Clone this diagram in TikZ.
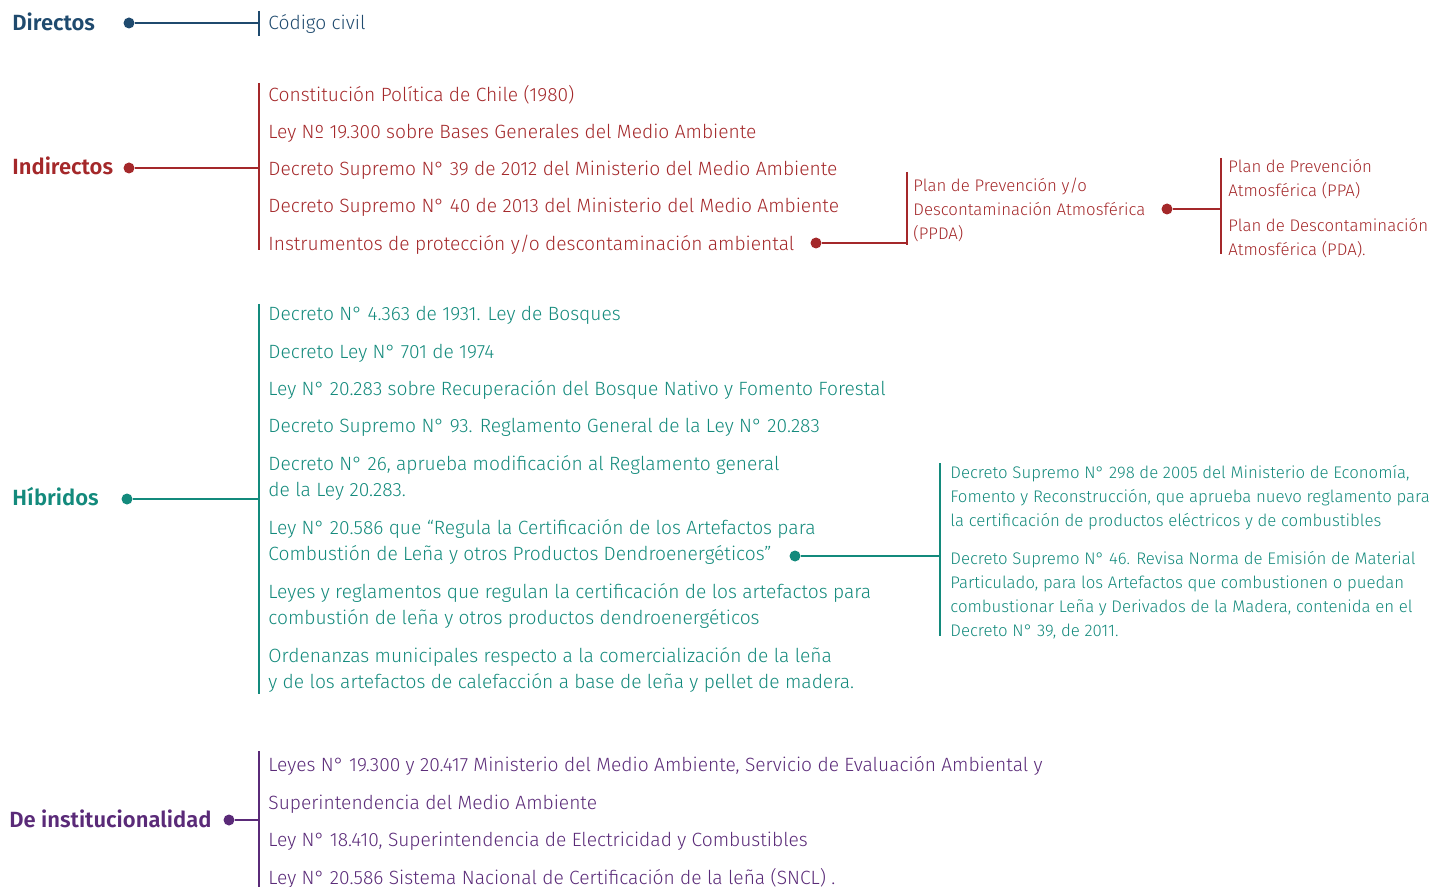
\documentclass[tikz,border=0pt]{standalone}
\usepackage{fontspec}
\setmainfont{Fira Sans Light}[BoldFont={Fira Sans SemiBold}]
\definecolor{dirblue}{HTML}{1F4A6E}
\definecolor{indred}{HTML}{A4282A}
\definecolor{hibteal}{HTML}{138A7C}
\definecolor{instpurple}{HTML}{5A2A78}
\begin{document}
\begin{tikzpicture}[x=0.5pt,y=-0.5pt,
	cat/.style={anchor=west,inner sep=0,font=\fontsize{11}{13}\selectfont\bfseries},
	item/.style={anchor=west,inner sep=0,yshift=-1pt,font=\fontsize{9.6}{13}\selectfont,align=left},
	small/.style={anchor=west,inner sep=0,yshift=-1pt,font=\fontsize{8.4}{12}\selectfont,align=left},
	dot/.style={circle,fill,inner sep=0,minimum size=5.5pt},
	link/.style={line width=1pt}]
	\useasboundingbox (0,0) rectangle (1450,887);
	% directos
	\node[cat,text=dirblue] (dir) at (12,22) {Directos};
	\node[dot,dirblue] (dirdot) at (129,23) {};
	\coordinate (dirbar) at (259,23);
	\draw[link,dirblue] (dirdot) -- (dirbar);
	\draw[link,dirblue] (259,11) -- (259,36);
	\node[item,text=dirblue] (cc) at (268,22) {Código civil};
	% indirectos
	\node[cat,text=indred] (ind) at (12,166) {Indirectos};
	\node[dot,indred] (inddot) at (129,168) {};
	\coordinate (indbar) at (259,168);
	\draw[link,indred] (inddot) -- (indbar);
	\draw[link,indred] (259,83) -- (259,250);
	\foreach \y/\t [count=\i] in {93/{Constitución Política de Chile (1980)},
		131/{Ley Nº 19.300 sobre Bases Generales del Medio Ambiente},
		168/{Decreto Supremo N° 39 de 2012 del Ministerio del Medio Ambiente},
		205/{Decreto Supremo N° 40 de 2013 del Ministerio del Medio Ambiente},
		243/{Instrumentos de protección y/o descontaminación ambiental}}
		\node[item,text=indred] (ind\i) at (268,\y) {\t};
	\node[dot,indred] (instdot) at (816,243) {};
	\coordinate (ppdabar) at (907,243);
	\draw[link,indred] (instdot) -- (ppdabar);
	\draw[link,indred] (907,172) -- (907,245);
	\node[small,text=indred] (ppda) at (913,208) {Plan de Prevención y/o\\Descontaminación Atmosférica\\(PPDA)};
	\node[dot,indred] (ppdadot) at (1167,209) {};
	\coordinate (planbar) at (1221,209);
	\draw[link,indred] (ppdadot) -- (planbar);
	\draw[link,indred] (1221,158) -- (1221,254);
	\node[small,text=indred] (ppa) at (1228,177) {Plan de Prevención\\Atmosférica (PPA)};
	\node[small,text=indred] (pda) at (1228,236) {Plan de Descontaminación\\Atmosférica (PDA).};
	% hibridos
	\node[cat,text=hibteal] (hib) at (12,497) {Híbridos};
	\node[dot,hibteal] (hibdot) at (127,499) {};
	\coordinate (hibbar) at (259,499);
	\draw[link,hibteal] (hibdot) -- (hibbar);
	\draw[link,hibteal] (259,304) -- (259,694);
	\foreach \y/\t [count=\i] in {313/{Decreto N° 4.363 de 1931. Ley de Bosques},
		351/{Decreto Ley N° 701 de 1974},
		388/{Ley N° 20.283 sobre Recuperación del Bosque Nativo y Fomento Forestal},
		425/{Decreto Supremo N° 93. Reglamento General de la Ley N° 20.283},
		476/{Decreto N° 26, aprueba modificación al Reglamento general\\de la Ley 20.283.},
		540/{Ley N° 20.586 que “Regula la Certificación de los Artefactos para\\Combustión de Leña y otros Productos Dendroenergéticos”},
		604/{Leyes y reglamentos que regulan la certificación de los artefactos para\\combustión de leña y otros productos dendroenergéticos},
		668/{Ordenanzas municipales respecto a la comercialización de la leña\\y de los artefactos de calefacción a base de leña y pellet de madera.}}
		\node[item,text=hibteal] (hib\i) at (268,\y) {\t};
	\node[dot,hibteal] (certdot) at (795,556) {};
	\coordinate (certbar) at (940,556);
	\draw[link,hibteal] (certdot) -- (certbar);
	\draw[link,hibteal] (940,463) -- (940,636);
	\node[small,text=hibteal] (ds298) at (950,496) {Decreto Supremo N° 298 de 2005 del Ministerio de Economía,\\Fomento y Reconstrucción, que aprueba nuevo reglamento para\\la certificación de productos eléctricos y de combustibles};
	\node[small,text=hibteal] (ds46) at (950,593) {Decreto Supremo N° 46. Revisa Norma de Emisión de Material\\Particulado, para los Artefactos que combustionen o puedan\\combustionar Leña y Derivados de la Madera, contenida en el\\Decreto N° 39, de 2011.};
	% institucionalidad
	\node[cat,text=instpurple] (inst) at (9,819) {De institucionalidad};
	\node[dot,instpurple] (instdot) at (229,820) {};
	\coordinate (instbar) at (259,820);
	\draw[link,instpurple] (instdot) -- (instbar);
	\draw[link,instpurple] (259,751) -- (259,887);
	\foreach \y/\t [count=\i] in {764/{Leyes N° 19.300 y 20.417 Ministerio del Medio Ambiente, Servicio de Evaluación Ambiental y},
		802/{Superintendencia del Medio Ambiente},
		839/{Ley N° 18.410, Superintendencia de Electricidad y Combustibles},
		876/{Ley N° 20.586 Sistema Nacional de Certificación de la leña (SNCL) .}}
		\node[item,text=instpurple] (inst\i) at (268,\y) {\t};
\end{tikzpicture}
\end{document}
